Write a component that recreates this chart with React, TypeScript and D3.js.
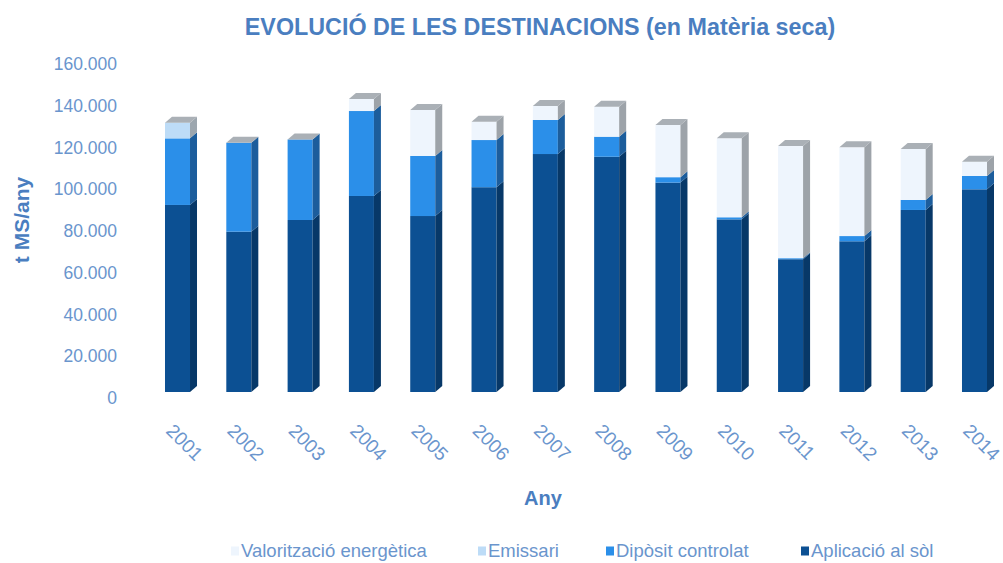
import React from "react";
import * as d3 from "d3";

const years = ["2001","2002","2003","2004","2005","2006","2007","2008","2009","2010","2011","2012","2013","2014"];
const aplicacio = [89600, 76800, 82400, 93900, 84300, 98100, 114000, 112700, 100300, 82700, 63600, 72200, 87200, 97100];
const diposit = [31900, 42600, 38600, 40700, 28800, 22600, 16300, 9600, 2600, 1000, 500, 2500, 4800, 6400];
const emissari = [7500, 0, 0, 0, 0, 0, 0, 0, 0, 0, 0, 0, 0, 0];
const valoritzacio = [0, 0, 0, 5800, 22000, 8800, 6700, 14400, 25000, 37800, 53700, 42500, 24400, 6800];
const yTicks = [0, 20000, 40000, 60000, 80000, 100000, 120000, 140000, 160000];
const seriesKeys = ["apl", "dip", "emi", "val"];
const legendLabels = ["Valorització energètica", "Emissari", "Dipòsit controlat", "Aplicació al sòl"];
const legendKeys = ["val", "emi", "dip", "apl"];

const W = 1003, H = 563;
const DX = 7, DY = -6;
const frontColor: Record<string, string> = { apl: "#0c5093", dip: "#2b8fe9", emi: "#bddcf7", val: "#eef5fd" };
const sideColor: Record<string, string> = { apl: "#073868", dip: "#1c5d9c", emi: "#9ca6ae", val: "#9da3a9" };
const capColor = "#aab0b6";
const textBlue = "#4a7ec0";
const tickBlue = "#6a95cd";

const fmt = (v: number) => d3.format(",")(v).replace(/,/g, ".");

export default function App() {
  const rows = years.map((y, i) => ({ year: y, apl: aplicacio[i], dip: diposit[i], emi: emissari[i], val: valoritzacio[i] }));
  const stacked = d3.stack<any>().keys(seriesKeys)(rows);
  const x = d3.scaleBand<string>().domain(years).range([146.85, 1005.15]).paddingInner(0.592).paddingOuter(0.296);
  const y = d3.scaleLinear().domain([0, 160000]).range([392, 58]);
  const bw = x.bandwidth();

  const bars = years.map((yr, i) => {
    const x0 = x(yr)!;
    const x1 = x0 + bw;
    const segs = stacked.map(s => ({ key: s.key, lo: s[i][0], hi: s[i][1] })).filter(s => s.hi - s.lo > 0);
    const top = segs[segs.length - 1];
    return (
      <g key={yr}>
        {segs.map(s => {
          const yt = y(s.hi), yb = y(s.lo);
          return (
            <g key={s.key}>
              <rect x={x0} y={yt} width={bw} height={yb - yt} fill={frontColor[s.key]} />
              <path d={`M${x1},${yb}L${x1 + DX},${yb + DY}L${x1 + DX},${yt + DY}L${x1},${yt}Z`} fill={sideColor[s.key]} />
            </g>
          );
        })}
        {top && (
          <path d={`M${x0},${y(top.hi)}L${x0 + DX},${y(top.hi) + DY}L${x1 + DX},${y(top.hi) + DY}L${x1},${y(top.hi)}Z`} fill={capColor} />
        )}
      </g>
    );
  });

  const legendX = [231, 478, 606, 801];

  return (
    <svg width={W} height={H} style={{ position: "absolute", left: 0, top: 0, background: "#fff" }} fontFamily="'Liberation Sans', Arial, sans-serif">
      <rect width={W} height={H} fill="#fff" />
      <text x={540} y={35} textAnchor="middle" fontSize={23.3} fontWeight="bold" fill={textBlue}>EVOLUCIÓ DE LES DESTINACIONS (en Matèria seca)</text>
      {yTicks.map(t => (
        <text key={t} x={117} y={y(t) + 6} dy="0.35em" textAnchor="end" fontSize={17.5} fill={tickBlue}>{fmt(t)}</text>
      ))}
      <text transform="translate(29,220) rotate(-90)" textAnchor="middle" fontSize={21} fontWeight="bold" fill={textBlue}>t MS/any</text>
      {bars}
      {years.map(yr => (
        <text key={yr} transform={`translate(${x(yr)!},432) rotate(45)`} fontSize={19} fill={tickBlue}>{yr}</text>
      ))}
      <text x={543} y={505} textAnchor="middle" fontSize={20} fontWeight="bold" fill={textBlue}>Any</text>
      {legendKeys.map((k, i) => (
        <g key={k} transform={`translate(${legendX[i]},551)`}>
          <rect x={0} y={-4.5} width={8} height={9} fill={frontColor[k]} />
          <text x={10} dy="0.35em" fontSize={18.5} fill={tickBlue}>{legendLabels[i]}</text>
        </g>
      ))}
    </svg>
  );
}
